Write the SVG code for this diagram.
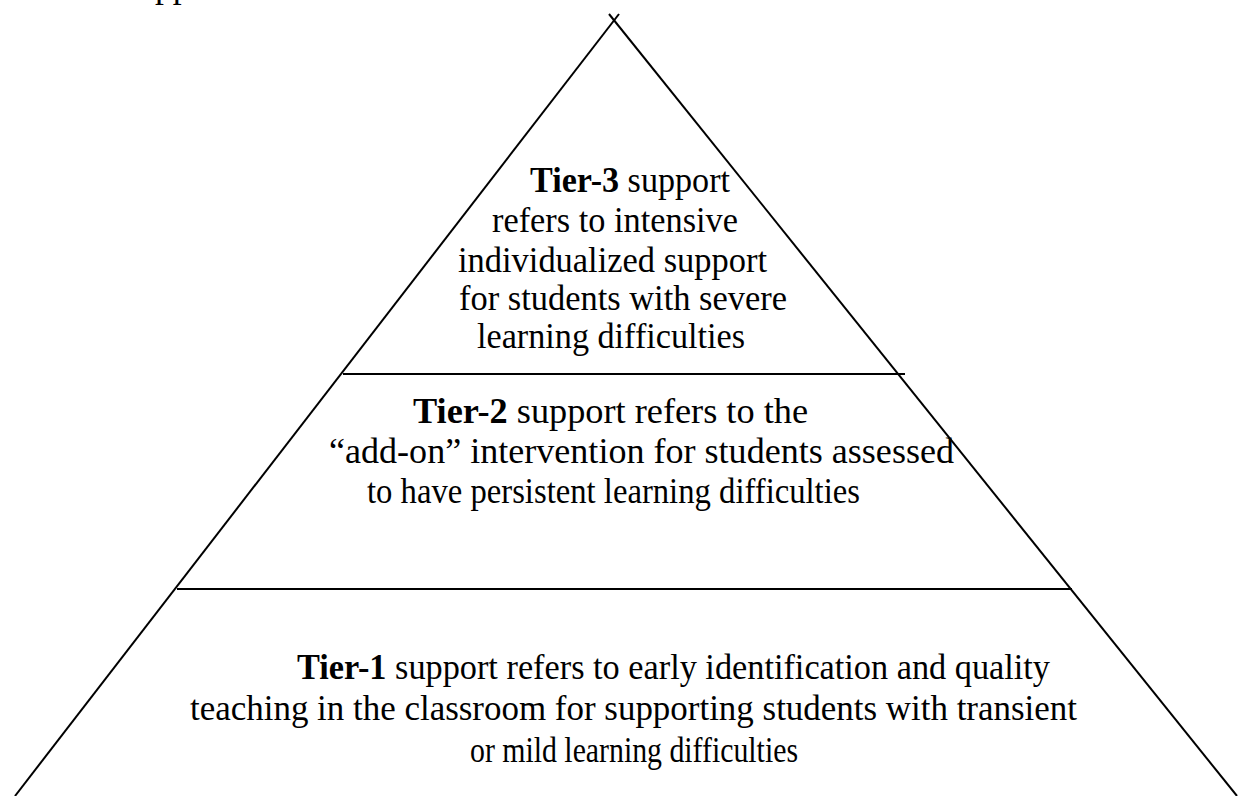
<svg xmlns="http://www.w3.org/2000/svg" width="1238" height="796" viewBox="0 0 1238 796">
<style>
text{font-family:"Liberation Serif","Times New Roman",serif;font-size:35.5px;fill:#000}
.b{font-weight:bold}
.ln{stroke:#000;stroke-width:2;fill:none}
</style>
<rect width="1238" height="796" fill="#fff"/>
<text x="155" y="-3">pp</text>
<g id="connectors">
<line class="ln" x1="15" y1="796" x2="619" y2="14"/>
<line class="ln" x1="1237" y1="796" x2="609" y2="14"/>
<line class="ln" x1="343" y1="374" x2="905" y2="374"/>
<line class="ln" x1="177" y1="589" x2="1072" y2="589"/>
</g>
<g id="tier3">
<text x="530" y="192" textLength="200" lengthAdjust="spacingAndGlyphs"><tspan class="b">Tier-3</tspan> support</text>
<text x="492" y="232" textLength="246" lengthAdjust="spacingAndGlyphs">refers to intensive</text>
<text x="458" y="272" textLength="309" lengthAdjust="spacingAndGlyphs">individualized support</text>
<text x="459" y="310" textLength="328" lengthAdjust="spacingAndGlyphs">for students with severe</text>
<text x="477" y="348" textLength="268" lengthAdjust="spacingAndGlyphs">learning difficulties</text>
</g>
<g id="tier2">
<text x="413" y="423" textLength="395" lengthAdjust="spacingAndGlyphs"><tspan class="b">Tier-2</tspan> support refers to the</text>
<text x="329" y="463" textLength="625" lengthAdjust="spacingAndGlyphs">“add-on” intervention for students assessed</text>
<text x="367" y="503" textLength="493" lengthAdjust="spacingAndGlyphs">to have persistent learning difficulties</text>
</g>
<g id="tier1">
<text x="297" y="679" textLength="753" lengthAdjust="spacingAndGlyphs"><tspan class="b">Tier-1</tspan> support refers to early identification and quality</text>
<text x="190" y="720" textLength="887" lengthAdjust="spacingAndGlyphs">teaching in the classroom for supporting students with transient</text>
<text x="470" y="762" textLength="328" lengthAdjust="spacingAndGlyphs">or mild learning difficulties</text>
</g>
</svg>
